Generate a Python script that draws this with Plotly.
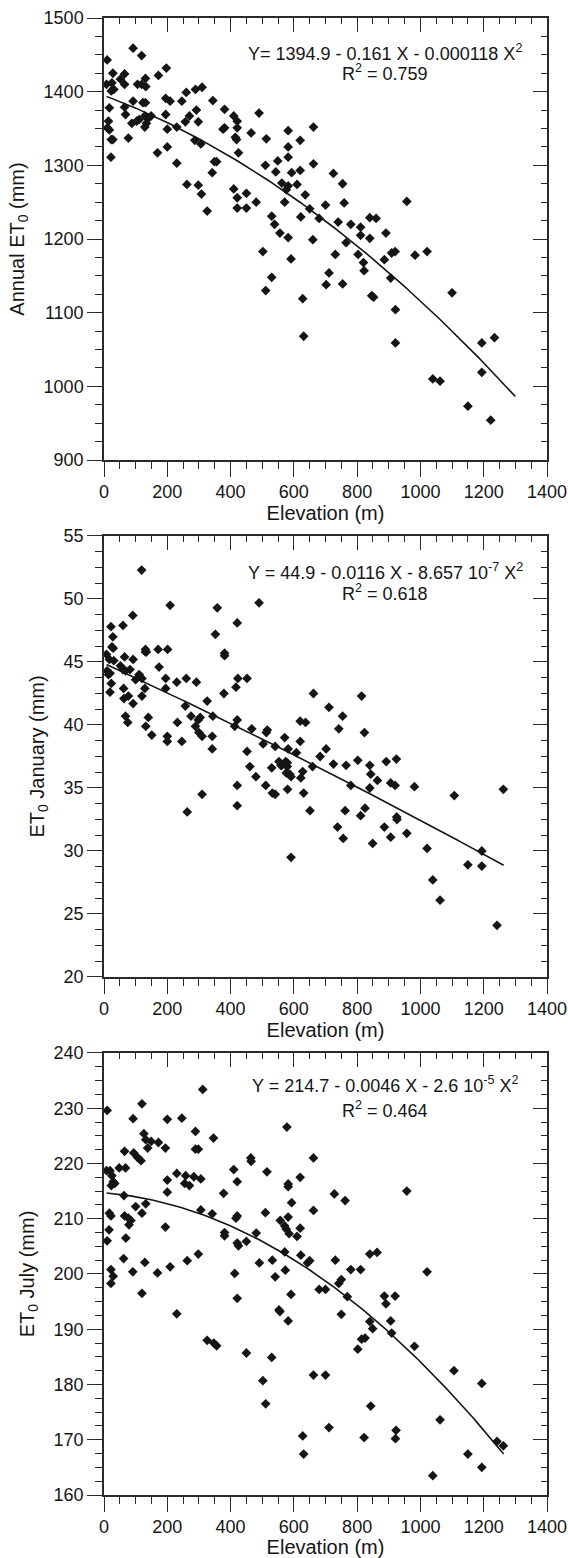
import numpy as np
import plotly.graph_objects as go

# ---------------- data ----------------
annual_elev = [10, 8, 25, 28, 31, 23, 17, 14, 17, 11, 23, 28, 22, 52, 65, 65, 65, 68, 77, 92,
               92, 88, 106, 119, 119, 123, 131, 132, 131, 129, 129, 134, 140, 149, 103, 111, 172, 169, 197, 195,
               209, 195, 200, 200, 230, 230, 246, 260, 257, 270, 262, 287, 292, 289, 310, 298, 306, 298, 308, 326,
               344, 356, 349, 342, 381, 376, 381, 410, 421, 421, 415, 419, 425, 410, 421, 421, 450, 450, 465, 481,
               490, 513, 510, 502, 530, 539, 530, 511, 549, 543, 556, 562, 582, 582, 582, 576, 582, 571, 582, 591,
               593, 610, 620, 620, 636, 622, 628, 650, 662, 662, 660, 680, 700, 702, 711, 731, 725, 740, 754, 759,
               765, 754, 780, 803, 811, 811, 820, 822, 840, 860, 840, 846, 886, 891, 906, 909, 920, 957, 983, 1021,
               1100, 631, 852, 921, 921, 1039, 1062, 1150, 1194, 1194, 1222, 1234]
annual_et0 = [1443, 1410, 1412, 1425, 1403, 1401, 1378, 1360, 1348, 1351, 1335, 1335, 1311, 1417, 1424, 1410, 1379, 1369, 1337, 1459,
              1387, 1357, 1410, 1449, 1410, 1385, 1418, 1407, 1385, 1367, 1352, 1357, 1364, 1367, 1360, 1362, 1422, 1317, 1432, 1391,
              1387, 1369, 1349, 1325, 1352, 1303, 1387, 1399, 1359, 1367, 1274, 1334, 1375, 1403, 1406, 1359, 1329, 1273, 1261, 1238,
              1388, 1305, 1305, 1290, 1376, 1349, 1351, 1367, 1360, 1351, 1338, 1335, 1317, 1268, 1256, 1242, 1262, 1242, 1344, 1250,
              1371, 1336, 1300, 1183, 1231, 1220, 1148, 1130, 1306, 1291, 1208, 1276, 1347, 1325, 1311, 1267, 1272, 1250, 1202, 1173,
              1290, 1274, 1334, 1293, 1260, 1230, 1119, 1241, 1352, 1302, 1199, 1228, 1246, 1138, 1154, 1179, 1289, 1223, 1275, 1249,
              1195, 1139, 1220, 1179, 1216, 1205, 1168, 1157, 1229, 1228, 1201, 1123, 1172, 1208, 1147, 1181, 1183, 1251, 1178, 1183,
              1127, 1068, 1121, 1104, 1059, 1010, 1007, 973, 1059, 1019, 954, 1066]

jan_elev = [10, 8, 17, 14, 19, 22, 28, 25, 29, 31, 23, 19, 60, 65, 52, 60, 68, 62, 63, 68,
            75, 77, 82, 91, 92, 92, 100, 111, 119, 120, 120, 129, 131, 131, 134, 140, 132, 151, 171, 174,
            195, 195, 201, 200, 200, 209, 230, 232, 246, 257, 260, 275, 289, 292, 298, 304, 300, 310, 326, 342,
            342, 344, 352, 358, 379, 381, 381, 413, 421, 421, 417, 423, 452, 452, 461, 467, 480, 490, 503, 513,
            516, 511, 530, 532, 541, 541, 553, 559, 562, 571, 574, 579, 579, 576, 587, 591, 582, 580, 608, 620,
            637, 620, 622, 628, 631, 662, 659, 683, 702, 711, 725, 742, 754, 765, 780, 802, 814, 823, 840, 843,
            840, 864, 892, 906, 920, 924, 981, 1107, 1262, 263, 421, 651, 762, 811, 825, 925, 310, 421,
            738, 756, 849, 886, 906, 926, 957, 591, 1021, 1039, 1062, 1150, 1194, 1194, 1242]
jan_et0 = [44.3, 45.6, 45.2, 44.0, 44.1, 47.8, 47.0, 46.2, 46.1, 45.1, 43.3, 42.6, 47.9, 45.4, 44.7, 44.4, 44.3, 42.9, 42.1, 40.7,
           40.2, 42.3, 44.4, 48.7, 45.2, 41.7, 43.6, 44.0, 52.3, 43.7, 42.3, 42.9, 46.0, 45.8, 45.8, 40.6, 39.9, 39.2, 46.0, 44.6,
           43.7, 42.9, 46.0, 39.1, 38.7, 49.5, 43.4, 40.2, 38.7, 41.5, 43.7, 40.7, 39.9, 43.4, 40.4, 40.6, 39.4, 39.1, 41.9, 39.1,
           38.1, 40.7, 47.2, 49.3, 42.5, 45.7, 45.5, 39.9, 40.4, 48.1, 43.0, 43.7, 43.7, 37.9, 36.7, 39.7, 35.9, 49.7, 38.5, 39.4,
           39.6, 35.2, 36.6, 34.6, 34.5, 38.3, 37.1, 36.8, 36.8, 39.0, 37.1, 37.0, 36.7, 36.2, 36.1, 35.9, 38.1, 34.9, 37.8, 40.3,
           40.2, 38.7, 35.8, 36.3, 34.6, 42.5, 36.7, 37.5, 38.1, 41.4, 36.9, 39.7, 40.7, 36.8, 35.2, 37.2, 42.3, 39.4, 36.8, 36.1,
           35.0, 35.6, 37.1, 35.4, 35.2, 37.3, 35.1, 34.4, 34.9, 33.1, 33.6, 33.2, 33.2, 32.8, 33.4, 32.7, 34.5, 35.2,
           31.9, 31.0, 30.6, 31.9, 31.1, 32.5, 31.4, 29.5, 30.2, 27.7, 26.1, 28.9, 30.0, 28.8, 24.1]

jul_elev = [10, 8, 19, 25, 29, 23, 34, 17, 22, 16, 10, 22, 29, 22, 48, 68, 65, 63, 65, 69,
            62, 77, 79, 85, 91, 92, 94, 106, 117, 120, 126, 132, 138, 149, 132, 120, 100, 129, 169, 172,
            194, 200, 200, 200, 194, 209, 230, 246, 255, 258, 270, 263, 289, 289, 298, 284, 306, 312, 306, 298,
            342, 346, 378, 381, 381, 410, 421, 421, 417, 421, 425, 413, 421, 450, 464, 465, 481, 491, 510, 515,
            532, 541, 557, 571, 576, 571, 573, 578, 582, 582, 582, 585, 593, 591, 610, 620, 620, 622, 643, 650,
            662, 662, 680, 700, 728, 731, 742, 750, 762, 769, 780, 811, 840, 863, 886, 891, 920, 957, 1021, 553,
            120, 230, 326, 347, 356, 450, 502, 511, 530, 556, 582, 628, 631, 662, 700, 711, 750, 802, 814, 825,
            822, 840, 849, 843, 906, 909, 921, 923, 981, 1062, 1106, 1150, 1194, 1194, 1039, 1242, 1262]
jul_et0 = [229.6, 218.7, 218.7, 217.8, 216.7, 216.0, 216.4, 211.0, 210.5, 208.0, 206.0, 200.8, 199.6, 198.3, 219.2, 219.2, 222.2, 214.2, 210.5, 206.5,
           202.8, 210.1, 208.9, 209.7, 200.4, 228.1, 221.9, 221.1, 220.5, 230.8, 225.4, 224.3, 222.8, 224.0, 212.7, 211.0, 212.2, 202.1, 200.2, 223.8,
           222.8, 228.0, 217.0, 214.8, 208.5, 201.3, 218.2, 228.2, 216.4, 217.8, 216.0, 202.4, 225.8, 222.6, 222.6, 217.6, 217.2, 233.4, 211.6, 203.6,
           210.9, 224.6, 214.6, 207.5, 206.9, 218.9, 216.7, 210.5, 210.1, 205.6, 205.1, 200.1, 195.6, 205.9, 221.0, 220.4, 207.4, 202.0, 211.1, 218.5,
           202.5, 199.5, 209.7, 208.7, 208.1, 204.0, 200.7, 226.6, 216.3, 215.8, 210.3, 207.3, 212.9, 196.3, 206.8, 217.5, 208.3, 203.4, 202.0, 202.4,
           221.0, 211.5, 197.2, 197.2, 214.5, 202.5, 198.3, 199.0, 213.3, 195.9, 200.8, 200.8, 203.6, 203.9, 196.0, 194.6, 196.0, 215.0, 200.4, 193.5,
           196.5, 192.8, 188.0, 187.5, 187.0, 185.7, 180.7, 176.5, 184.9, 193.2, 191.5, 170.7, 167.4, 181.7, 181.7, 172.2, 192.7, 186.4, 188.2, 188.4,
           170.4, 191.4, 190.1, 176.1, 191.5, 189.3, 170.2, 171.7, 186.9, 173.6, 182.5, 167.4, 180.2, 165.0, 163.5, 169.7, 168.9]

# quadratic fits printed on the chart: (a, b, c) for Y = a + b X + c X^2, and fitted X span
annual_fit = (1394.9, -0.161, -0.000118)
jan_fit = (44.9, -0.0116, -8.657e-7)
jul_fit = (214.7, -0.0046, -2.6e-5)
fit_spans = [(8, 1300), (8, 1263), (8, 1263)]

eq_texts = [
    ("Y= 1394.9 - 0.161 X - 0.000118 X<sup>2</sup>", "R<sup>2</sup> = 0.759"),
    ("Y = 44.9 - 0.0116 X - 8.657 10<sup>-7</sup> X<sup>2</sup>", "R<sup>2</sup> = 0.618"),
    ("Y = 214.7 - 0.0046 X - 2.6 10<sup>-5</sup> X<sup>2</sup>", "R<sup>2</sup> = 0.464"),
]
y_titles = ["Annual ET<sub>0</sub> (mm)", "ET<sub>0</sub> January (mm)", "ET<sub>0</sub> July (mm)"]
y_ranges = [(900, 1500), (20, 55), (160, 240)]
y_dticks = [100, 5, 10]
y_minor = [25, 1.25, 2.5]
x_range = (0, 1400)
x_title = "Elevation (m)"

# ---------------- figure ----------------
W, H = 568, 1558
ML, MR, MT, MB = 104, 21, 18, 63
domains = [(0.70074, 1.0), (0.35071, 0.64929), (0.0, 0.29926)]
eq_y = [(0.921, 0.876), (0.919, 0.871), (0.928, 0.873)]

FONT = "Liberation Sans, Arial, sans-serif"
INK = "#151515"
AX = "#2a2a2a"

fig = go.Figure()
series = [(annual_elev, annual_et0, annual_fit), (jan_elev, jan_et0, jan_fit), (jul_elev, jul_et0, jul_fit)]

layout = dict(
    width=W, height=H,
    margin=dict(l=ML, r=MR, t=MT, b=MB),
    paper_bgcolor="white", plot_bgcolor="white",
    showlegend=False,
    font=dict(family=FONT, color=INK, size=18),
)

for i, (xs, ys, fit) in enumerate(series):
    n = i + 1
    xa = "x" if n == 1 else f"x{n}"
    ya = "y" if n == 1 else f"y{n}"
    # scatter points
    fig.add_trace(go.Scatter(x=xs, y=ys, mode="markers", xaxis=xa, yaxis=ya,
                             marker=dict(symbol="diamond", size=7.5, color=INK, line=dict(width=0)),
                             hoverinfo="skip"))
    # regression curve
    a, b, c = fit
    xf = np.linspace(fit_spans[i][0], fit_spans[i][1], 200)
    fig.add_trace(go.Scatter(x=xf, y=a + b * xf + c * xf ** 2, mode="lines", xaxis=xa, yaxis=ya,
                             line=dict(color=INK, width=1.6), hoverinfo="skip"))
    # overlay axes for inward ticks on top/right
    ox = f"x{n + 3}"
    oy = f"y{n + 3}"
    fig.add_trace(go.Scatter(x=[], y=[], xaxis=ox, yaxis=oy, mode="markers", hoverinfo="skip"))

    common_x = dict(range=list(x_range), showgrid=False, zeroline=False, showline=True,
                    linecolor=AX, linewidth=1.5, dtick=200, tick0=0, tickcolor=AX, tickwidth=1.3)
    common_y = dict(range=list(y_ranges[i]), showgrid=False, zeroline=False, showline=True,
                    linecolor=AX, linewidth=1.5, dtick=y_dticks[i], tick0=y_ranges[i][0],
                    tickcolor=AX, tickwidth=1.3)

    layout["xaxis" if n == 1 else f"xaxis{n}"] = dict(
        common_x, domain=[0, 1], anchor=ya, side="bottom",
        ticks="outside", ticklen=15,
        minor=dict(dtick=50, ticks="outside", ticklen=7, tickcolor=AX, tickwidth=1.3, showgrid=False),
        tickfont=dict(size=18, family=FONT, color=INK),
        title=dict(text=x_title, font=dict(size=20, family=FONT, color=INK), standoff=3),
        automargin=False,
    )
    layout["yaxis" if n == 1 else f"yaxis{n}"] = dict(
        common_y, domain=list(domains[i]), anchor=xa, side="left",
        ticks="outside", ticklen=15,
        minor=dict(dtick=y_minor[i], ticks="outside", ticklen=7, tickcolor=AX, tickwidth=1.3, showgrid=False),
        tickfont=dict(size=18, family=FONT, color=INK),
        title=dict(text=y_titles[i], font=dict(size=20, family=FONT, color=INK), standoff=14),
        automargin=False,
    )
    layout[f"xaxis{n + 3}"] = dict(
        common_x, overlaying=xa, anchor=ya, side="top",
        ticks="inside", ticklen=14, showticklabels=False,
        minor=dict(dtick=50, ticks="inside", ticklen=6, tickcolor=AX, tickwidth=1.3, showgrid=False),
    )
    layout[f"yaxis{n + 3}"] = dict(
        common_y, overlaying=ya, anchor=xa, side="right",
        ticks="inside", ticklen=14, showticklabels=False,
        minor=dict(dtick=y_minor[i], ticks="inside", ticklen=6, tickcolor=AX, tickwidth=1.3, showgrid=False),
    )

annotations = []
for i, (eq, r2) in enumerate(eq_texts):
    n = i + 1
    xa = "x" if n == 1 else f"x{n}"
    ya = "y" if n == 1 else f"y{n}"
    for txt, yy in ((eq, eq_y[i][0]), (r2, eq_y[i][1])):
        annotations.append(dict(text=txt, xref=f"{xa} domain", yref=f"{ya} domain", x=0.635, y=yy,
                                xanchor="center", yanchor="middle", showarrow=False,
                                font=dict(size=18, family=FONT, color=INK)))
layout["annotations"] = annotations

fig.update_layout(**layout)
fig.write_html("out.html", config={"displayModeBar": False},
               post_script="document.body.style.margin='0';")
